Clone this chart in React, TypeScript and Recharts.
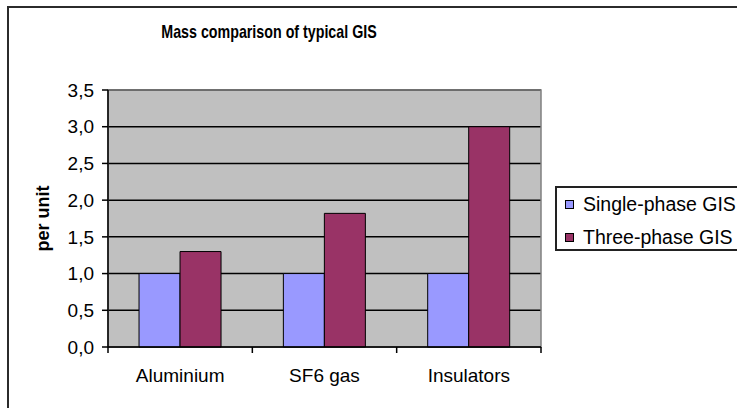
import React from 'react';
import {
    BarChart,
    Bar,
    XAxis,
    YAxis,
    CartesianGrid,
    ReferenceArea,
} from 'recharts';

const categories = ['Aluminium', 'SF6 gas', 'Insulators'];
const singlePhase = [1.0, 1.0, 1.0];
const threePhase = [1.3, 1.82, 3.0];
const yTicks = [0, 0.5, 1.0, 1.5, 2.0, 2.5, 3.0, 3.5];
const seriesNames = ['Single-phase GIS', 'Three-phase GIS'];
const seriesColors = ['#9999ff', '#993366'];

const data = categories.map((c, i) => ({
    category: c,
    single: singlePhase[i],
    three: threePhase[i],
}));

// layout
const W = 737;
const H = 408;
const margin = { top: 90, right: 196, bottom: 31, left: 48 };
const yAxisW = 60;
const plotW = W - margin.left - margin.right - yAxisW;
const band = plotW / categories.length;
const FONT = '"Liberation Sans", Arial, Helvetica, sans-serif';

// category label plus the boundary tick marks between bands
const CategoryTick = (props: any) => {
    const { x, y, payload, index } = props;
    const last = index === categories.length - 1;
    return (
        <g>
            <line x1={x - band / 2} y1={y} x2={x - band / 2} y2={y + 6} stroke="#000" strokeWidth={1.5} />
            {last && <line x1={x + band / 2} y1={y} x2={x + band / 2} y2={y + 6} stroke="#000" strokeWidth={1.5} />}
            <text x={x} y={y + 35} textAnchor="middle" fill="#000" fontSize={19} fontFamily={FONT}>
                {payload.value}
            </text>
        </g>
    );
};

const YLabel = (props: any) => {
    const vb = props.viewBox || { x: margin.left, y: margin.top, height: 257 };
    const lx = vb.x + 1;
    const ly = vb.y + vb.height / 2;
    return (
        <text
            x={lx}
            y={ly}
            textAnchor="middle"
            transform={`rotate(-90, ${lx}, ${ly})`}
            fontSize={18}
            fontWeight="bold"
            fontFamily={FONT}
            fill="#000"
        >
            per unit
        </text>
    );
};

export default function App() {
    return (
        <div
            style={{
                position: 'absolute',
                left: 0,
                top: 0,
                width: W,
                height: H,
                overflow: 'hidden',
                background: '#fff',
                fontFamily: FONT,
            }}
        >
            {/* outer frame, cut off at right and bottom */}
            <div
                style={{
                    position: 'absolute',
                    left: 7,
                    top: 6,
                    width: 900,
                    height: 600,
                    border: '2px solid #2b2b2b',
                }}
            />

            {/* title is a narrow face in the original, so squeeze it */}
            <div
                style={{
                    position: 'absolute',
                    left: 0,
                    top: 22,
                    width: 538,
                    textAlign: 'center',
                    fontSize: 19,
                    lineHeight: '20px',
                    fontWeight: 'bold',
                    color: '#000',
                    transform: 'scaleX(0.75)',
                    transformOrigin: '269px 0',
                    whiteSpace: 'nowrap',
                }}
            >
                Mass comparison of typical GIS
            </div>

            <div style={{ position: 'absolute', left: 0, top: 0 }}>
                <BarChart
                    width={W}
                    height={H}
                    data={data}
                    margin={margin}
                    barCategoryGap="21.5%"
                    barGap={0}
                >
                    <CartesianGrid fill="#c0c0c0" stroke="#000" strokeWidth={1.5} vertical={false} />
                    <ReferenceArea y1={0} y2={3.5} fill="none" stroke="#808080" strokeWidth={1.5} />
                    <XAxis
                        dataKey="category"
                        height={30}
                        tickLine={false}
                        tickSize={0}
                        tickMargin={0}
                        axisLine={{ stroke: '#000', strokeWidth: 1.5 }}
                        tick={<CategoryTick />}
                        interval={0}
                    />
                    <YAxis
                        width={yAxisW}
                        domain={[0, 3.5]}
                        ticks={yTicks}
                        interval={0}
                        tickFormatter={(v: number) => v.toFixed(1).replace('.', ',')}
                        tick={{ fill: '#000', fontSize: 19, fontFamily: FONT }}
                        tickLine={{ stroke: '#000', strokeWidth: 1.5 }}
                        tickSize={6}
                        tickMargin={8}
                        axisLine={{ stroke: '#000', strokeWidth: 1.5 }}
                        label={<YLabel />}
                    />
                    <Bar dataKey="single" name={seriesNames[0]} fill={seriesColors[0]} stroke="#000" strokeWidth={1} isAnimationActive={false} />
                    <Bar dataKey="three" name={seriesNames[1]} fill={seriesColors[1]} stroke="#000" strokeWidth={1} isAnimationActive={false} />
                </BarChart>
            </div>

            {/* legend box, runs off the right edge like the original */}
            <div
                style={{
                    position: 'absolute',
                    left: 555,
                    top: 186,
                    width: 250,
                    height: 61,
                    border: '2px solid #222',
                    background: '#fff',
                }}
            >
                {seriesNames.map((n, i) => (
                    <div
                        key={n}
                        style={{
                            position: 'absolute',
                            left: 8,
                            top: 5 + i * 33,
                            height: 22,
                            display: 'flex',
                            alignItems: 'center',
                            whiteSpace: 'nowrap',
                        }}
                    >
                        <span
                            style={{
                                display: 'inline-block',
                                width: 7,
                                height: 7,
                                background: seriesColors[i],
                                border: '1px solid #000',
                                marginRight: 9,
                            }}
                        />
                        <span style={{ fontSize: 19.5, color: '#000' }}>{n}</span>
                    </div>
                ))}
            </div>
        </div>
    );
}
